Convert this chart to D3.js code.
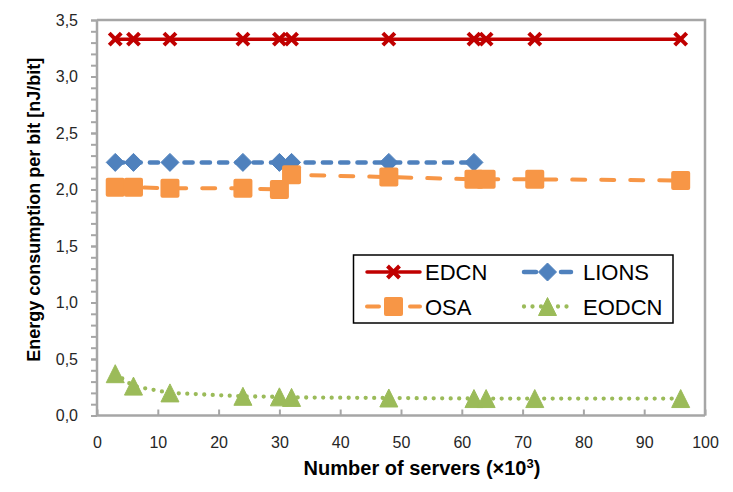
<!DOCTYPE html>
<html>
<head>
<meta charset="utf-8">
<script src="https://cdn.jsdelivr.net/npm/d3@7"></script>
<style>
  body { margin: 0; background: #fff; }
  svg { display: block; font-family: 'Liberation Sans', Arial, sans-serif; }
</style>
</head>
<body>
<div id="chart"></div>
<script>
// data
const servers = [3, 6, 12, 24, 30, 32, 48, 62, 64, 72, 96];
const edcn = [3.33, 3.33, 3.33, 3.33, 3.33, 3.33, 3.33, 3.33, 3.33, 3.33, 3.33];
const lions = [2.24, 2.24, 2.24, 2.24, 2.24, 2.24, 2.24, 2.24];
const osa = [2.02, 2.02, 2.01, 2.01, 2.0, 2.13, 2.11, 2.09, 2.09, 2.09, 2.08];
const eodcn = [0.37, 0.26, 0.20, 0.17, 0.165, 0.16, 0.155, 0.15, 0.15, 0.15, 0.15];

const xTicks = [0, 10, 20, 30, 40, 50, 60, 70, 80, 90, 100];
const yTicks = [0, 0.5, 1.0, 1.5, 2.0, 2.5, 3.0, 3.5];
const yMinorTicks = d3.range(0, 36).map(d => d / 10);

const seriesNames = ['EDCN', 'LIONS', 'OSA', 'EODCN'];
const seriesValues = [edcn, lions, osa, eodcn];

const width = 733;
const height = 492;
const margin = { top: 20, right: 28, bottom: 76.5, left: 97 };

const svg = d3.select('#chart')
  .append('svg')
  .attr('width', width)
  .attr('height', height);

const x = d3.scaleLinear()
  .domain([0, 100])
  .range([margin.left, width - margin.right]);

const y = d3.scaleLinear()
  .domain([0, 3.5])
  .range([height - margin.bottom, margin.top]);

const axisColor = '#a6a6a6';
const comma = d => d3.format('.1f')(d).replace('.', ',');

// frame (top + right)
svg.append('path')
  .attr('d', `M${x(0)},${y(3.5)}H${x(100)}V${y(0)}`)
  .attr('fill', 'none')
  .attr('stroke', axisColor)
  .attr('stroke-width', 2.5);

// y axis
const yAxisGroup = svg.append('g')
  .attr('transform', `translate(${x(0)},0)`);
yAxisGroup.call(d3.axisLeft(y).tickValues(yMinorTicks).tickSize(6).tickFormat(''));
yAxisGroup.call(g => g.select('.domain').remove());
yAxisGroup.selectAll('line').attr('stroke', axisColor).attr('stroke-width', 2);

const yLabels = svg.append('g')
  .attr('transform', `translate(${x(0)},0)`)
  .call(d3.axisLeft(y).tickValues(yTicks).tickSize(6).tickPadding(13).tickFormat(comma));
yLabels.select('.domain').remove();
yLabels.selectAll('line').attr('stroke', axisColor).attr('stroke-width', 2);
yLabels.selectAll('text')
  .attr('font-size', 16)
  .attr('fill', '#262626')
  .attr('font-family', 'Liberation Sans, Arial, sans-serif');

// x axis, ticks pointing into the plot
const xAxisGroup = svg.append('g')
  .attr('transform', `translate(0,${y(0)})`)
  .call(d3.axisBottom(x).tickValues(xTicks).tickSize(-6).tickPadding(21).tickFormat(d3.format('d')));
xAxisGroup.select('.domain').remove();
xAxisGroup.selectAll('line').attr('stroke', axisColor).attr('stroke-width', 2);
xAxisGroup.selectAll('text')
  .attr('font-size', 16)
  .attr('fill', '#262626')
  .attr('font-family', 'Liberation Sans, Arial, sans-serif');

// axis lines on top of ticks
svg.append('path')
  .attr('d', `M${x(0)},${y(3.5)}V${y(0)}H${x(100)}`)
  .attr('fill', 'none')
  .attr('stroke', axisColor)
  .attr('stroke-width', 2.5);

// axis titles
svg.append('text')
  .attr('transform', `translate(40,${(y(0) + y(3.5)) / 2 - 8}) rotate(-90)`)
  .attr('text-anchor', 'middle')
  .attr('font-size', 18)
  .attr('font-weight', 'bold')
  .attr('fill', '#000')
  .text('Energy consumption per bit [nJ/bit]');

const xTitle = svg.append('text')
  .attr('x', 422)
  .attr('y', 475)
  .attr('text-anchor', 'middle')
  .attr('font-size', 20)
  .attr('font-weight', 'bold')
  .attr('fill', '#000');
xTitle.append('tspan').text('Number of servers (×10');
xTitle.append('tspan').attr('font-size', 13).attr('dy', -7).text('3');
xTitle.append('tspan').attr('dy', 7).text(')');

// series styles
const styles = {
  EDCN:  { color: '#c00000', width: 3.5, dash: null,       marker: 'x' },
  LIONS: { color: '#4f81bd', width: 4.5, dash: '8.2,9.1',  marker: 'diamond' },
  OSA:   { color: '#f79646', width: 4,   dash: '13,16',    marker: 'square' },
  EODCN: { color: '#9bbb59', width: 4.3, dash: '0,8.5',    marker: 'triangle' },
};

const markerPath = (type) => {
  if (type === 'diamond') return 'M0,-9L9,0L0,9L-9,0Z';
  if (type === 'triangle') return 'M0,-9L9,9L-9,9Z';
  if (type === 'square') return null;
  return 'M-6,-6L6,6M-6,6L6,-6';
};

const drawMarker = (g, type, color) => {
  if (type === 'square') {
    g.append('rect')
      .attr('x', -9.5).attr('y', -9.5)
      .attr('width', 19).attr('height', 19)
      .attr('rx', 2)
      .attr('fill', color);
  } else if (type === 'x') {
    g.append('path')
      .attr('d', markerPath(type))
      .attr('stroke', color)
      .attr('stroke-width', 4)
      .attr('fill', 'none');
  } else {
    g.append('path')
      .attr('d', markerPath(type))
      .attr('fill', color)
      .attr('stroke', color)
      .attr('stroke-width', 1)
      .attr('stroke-linejoin', 'round');
  }
};

const line = d3.line()
  .x(d => x(d.x))
  .y(d => y(d.y));

seriesNames.forEach((name, i) => {
  const st = styles[name];
  const points = seriesValues[i].map((v, j) => ({ x: servers[j], y: v }));
  const g = svg.append('g');

  g.append('path')
    .datum(points)
    .attr('d', line)
    .attr('fill', 'none')
    .attr('stroke', st.color)
    .attr('stroke-width', st.width)
    .attr('stroke-linecap', 'round')
    .attr('stroke-dasharray', st.dash);

  g.selectAll('g.pt')
    .data(points)
    .enter()
    .append('g')
    .attr('class', 'pt')
    .attr('transform', d => `translate(${x(d.x)},${y(d.y)})`)
    .each(function () { drawMarker(d3.select(this), st.marker, st.color); });
});

// legend
const legend = svg.append('g');
legend.append('rect')
  .attr('x', 353.5).attr('y', 255)
  .attr('width', 319.5).attr('height', 68)
  .attr('fill', '#fff')
  .attr('stroke', '#000')
  .attr('stroke-width', 1.5);

const legendPos = [
  { x0: 367, x1: 420, tx: 425, y: 272 },
  { x0: 524, x1: 571, tx: 583, y: 272 },
  { x0: 367, x1: 420, tx: 425, y: 306.5 },
  { x0: 524, x1: 571, tx: 583, y: 306.5 },
];

seriesNames.forEach((name, i) => {
  const st = styles[name];
  const p = legendPos[i];
  const item = legend.append('g');
  item.append('line')
    .attr('x1', p.x0).attr('x2', p.x1)
    .attr('y1', p.y).attr('y2', p.y)
    .attr('stroke', st.color)
    .attr('stroke-width', st.width)
    .attr('stroke-linecap', 'round')
    .attr('stroke-dasharray', name === 'EODCN' ? '0,8.5' : (name === 'EDCN' ? null : '12,100'))
    .attr('stroke-dashoffset', 0);
  if (name === 'LIONS' || name === 'OSA') {
    item.append('line')
      .attr('x1', p.x1 - 10).attr('x2', p.x1)
      .attr('y1', p.y).attr('y2', p.y)
      .attr('stroke', st.color)
      .attr('stroke-width', st.width)
      .attr('stroke-linecap', 'round');
  }
  const m = item.append('g')
    .attr('transform', `translate(${(p.x0 + p.x1) / 2},${p.y})`);
  drawMarker(m, st.marker, st.color);
  item.append('text')
    .attr('x', p.tx)
    .attr('y', p.y + 8)
    .attr('font-size', 22)
    .attr('fill', '#000')
    .text(name);
});
</script>
</body>
</html>
